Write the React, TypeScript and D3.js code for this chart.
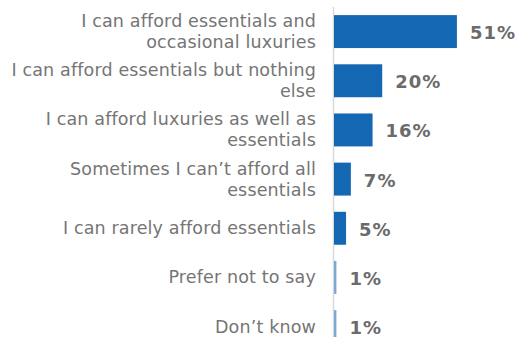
import React from "react";
import * as d3 from "d3";

const categories = [
  "I can afford essentials and occasional luxuries",
  "I can afford essentials but nothing else",
  "I can afford luxuries as well as essentials",
  "Sometimes I can\u2019t afford all essentials",
  "I can rarely afford essentials",
  "Prefer not to say",
  "Don\u2019t know",
];
const values = [51, 20, 16, 7, 5, 1, 1];
const valueLabels = ["51%", "20%", "16%", "7%", "5%", "1%", "1%"];

const W = 518;
const H = 337;
const LABEL_FONT = "17.5px 'DejaVu Sans'";
const LABEL_SPACING = 0.15;
const LABEL_MAX = 312;

function wrap(text: string): string[] {
  const canvas = document.createElement("canvas");
  const ctx = canvas.getContext("2d")!;
  ctx.font = LABEL_FONT;
  const words = text.split(" ");
  const lines: string[] = [];
  let cur = "";
  for (const w of words) {
    const test = cur ? cur + " " + w : w;
    const width = ctx.measureText(test).width + test.length * LABEL_SPACING;
    if (width > LABEL_MAX && cur) {
      lines.push(cur);
      cur = w;
    } else cur = test;
  }
  if (cur) lines.push(cur);
  return lines;
}

export default function App() {
  const x = d3.scaleLinear().domain([0, 100]).range([334, 575]);
  const y = d3
    .scaleBand<string>()
    .domain(categories)
    .range([7, 351.2])
    .paddingInner(0.33)
    .paddingOuter(0.165);
  const bw = y.bandwidth();

  return (
    <svg
      width={W}
      height={H}
      style={{ position: "absolute", left: 0, top: 0, display: "block" }}
    >
      <rect width={W} height={H} fill="#ffffff" />
      <line x1={333.5} x2={333.5} y1={7} y2={H} stroke="#d9d9d9" strokeWidth={1.5} />
      {categories.map((c, i) => {
        const cy = (y(c) as number) + bw / 2;
        const lines = wrap(c);
        const first = cy + 6 - (lines.length - 1) * 10.5;
        return (
          <g key={c}>
            <rect
              x={x(0)}
              y={y(c)}
              width={x(values[i]) - x(0)}
              height={bw}
              fill={values[i] <= 1 ? "#7aa9d8" : "#1467b3"}
            />
            <text
              x={316}
              textAnchor="end"
              fill="#757575"
              style={{ font: LABEL_FONT, letterSpacing: `${LABEL_SPACING}px` }}
            >
              {lines.map((l, j) => (
                <tspan key={j} x={316} y={first + j * 21}>
                  {l}
                </tspan>
              ))}
            </text>
            <text
              x={x(values[i]) + 13}
              y={cy + 7.5}
              fill="#6b6b6b"
              style={{ font: "bold 18px 'DejaVu Sans'", letterSpacing: "1px" }}
            >
              {valueLabels[i]}
            </text>
          </g>
        );
      })}
    </svg>
  );
}
